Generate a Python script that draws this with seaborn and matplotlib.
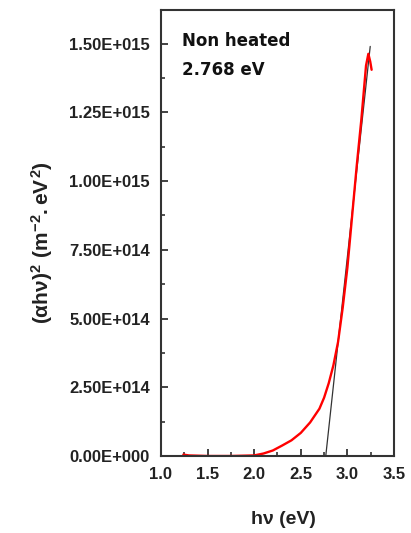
import matplotlib
matplotlib.use("Agg")
import matplotlib.pyplot as plt
import seaborn as sns
import pandas as pd
from matplotlib.ticker import MultipleLocator, FixedLocator, FixedFormatter

# Data
energy_ev = [1.24, 1.30, 1.50, 1.75, 2.00, 2.10, 2.20, 2.30, 2.40, 2.50, 2.60,
             2.70, 2.75, 2.80, 2.85, 2.90, 2.95, 3.00, 3.05, 3.10, 3.15, 3.20,
             3.225, 3.245, 3.26]
alpha_hv_sq = [0.05e14, 0.02e14, 0.0, 0.0, 0.02e14, 0.09e14, 0.2e14, 0.38e14, 0.57e14,
               0.84e14, 1.22e14, 1.72e14, 2.12e14, 2.65e14, 3.30e14, 4.15e14,
               5.40e14, 6.85e14, 8.70e14, 10.55e14, 12.25e14, 14.2e14,
               14.63e14, 14.35e14, 14.05e14]
fit_x = [2.768, 3.245]
fit_y = [0.0, 1.49e15]
ytick_values = [0.0, 2.5e14, 5.0e14, 7.5e14, 1.0e15, 1.25e15, 1.5e15]
ytick_labels = ["0.00E+000", "2.50E+014", "5.00E+014", "7.50E+014",
                "1.00E+015", "1.25E+015", "1.50E+015"]
annotation_title = "Non heated"
annotation_gap = "2.768 eV"

sns.set_style("white")
plt.rcParams['font.family'] = ['Liberation Sans', 'DejaVu Sans']
plt.rcParams['mathtext.fontset'] = 'custom'
plt.rcParams['mathtext.rm'] = 'Liberation Sans:bold'
plt.rcParams['mathtext.it'] = 'Liberation Sans:bold'
plt.rcParams['mathtext.bf'] = 'Liberation Sans:bold'

fig = plt.figure(figsize=(4.11, 5.33), dpi=100)
ax = fig.add_axes([0.3917, 0.1445, 0.5669, 0.8365])

curve = pd.DataFrame({"x": energy_ev, "y": alpha_hv_sq})
fit = pd.DataFrame({"x": fit_x, "y": fit_y})
sns.lineplot(data=fit, x="x", y="y", ax=ax, color="#333333", lw=0.9, sort=False)
sns.lineplot(data=curve, x="x", y="y", ax=ax, color="#ff0000", lw=1.7, sort=False)

ax.set_xlim(1.0, 3.5)
ax.set_ylim(0, 1.622e15)
ax.xaxis.set_major_locator(MultipleLocator(0.5))
ax.xaxis.set_minor_locator(MultipleLocator(0.25))
ax.yaxis.set_major_locator(FixedLocator(ytick_values))
ax.yaxis.set_major_formatter(FixedFormatter(ytick_labels))
ax.yaxis.set_minor_locator(MultipleLocator(1.25e14))
ax.xaxis.set_major_formatter(matplotlib.ticker.FormatStrFormatter("%.1f"))

for sp in ax.spines.values():
    sp.set_color("#333333")
    sp.set_linewidth(1.5)

ax.tick_params(which="major", direction="in", length=5, width=1.3, color="#333333",
               labelsize=12, pad=8, bottom=True, left=True)
ax.tick_params(which="minor", direction="in", length=3, width=1.2, color="#333333",
               bottom=True, left=True)
for lbl in ax.get_xticklabels() + ax.get_yticklabels():
    lbl.set_fontweight("bold")
    lbl.set_color("#222222")

ax.set_xlabel("hν (eV)", fontsize=14, fontweight="bold", color="#222222")
ax.xaxis.set_label_coords(0.524, -0.123)
ax.set_ylabel(r"$(\alpha h\nu)^2\ (m^{-2}.eV^2)$", fontsize=15, color="#222222")
ax.yaxis.set_label_coords(-0.456, 0.478)

ax.text(0.09, 0.952, annotation_title, transform=ax.transAxes, fontsize=12,
        fontweight="bold", family="DejaVu Sans", va="top", ha="left", color="#111111")
ax.text(0.09, 0.887, annotation_gap, transform=ax.transAxes, fontsize=12,
        fontweight="bold", family="DejaVu Sans", va="top", ha="left", color="#111111")

fig.savefig("out.png", dpi=100)
